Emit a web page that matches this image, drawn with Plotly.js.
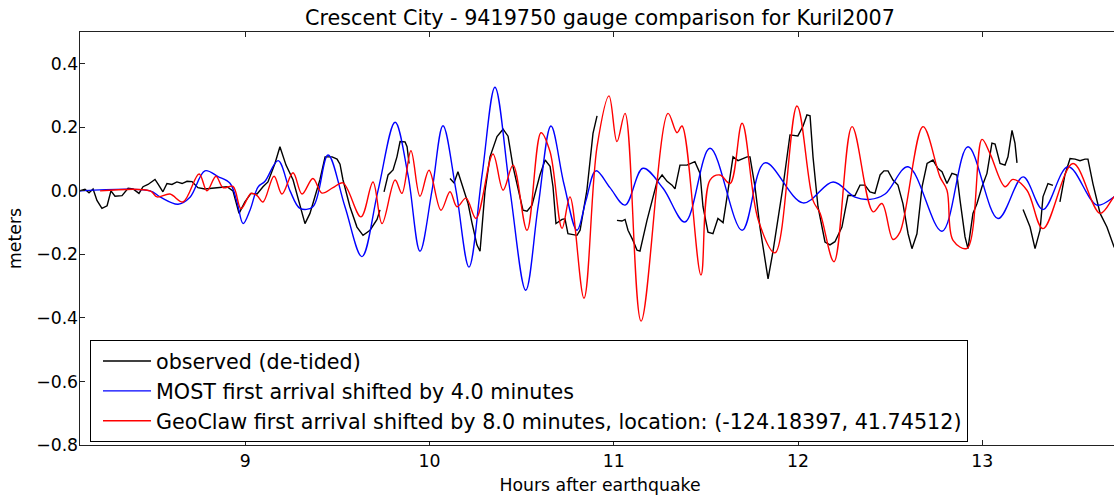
<!DOCTYPE html>
<html>
<head>
<meta charset="utf-8">
<script src="https://cdn.plot.ly/plotly-3.0.1.min.js"></script>
<style>
  html, body { margin: 0; padding: 0; overflow: hidden; background: #fff; }
  #chart { width: 1120px; height: 495px; }
</style>
</head>
<body>
<div id="chart"></div>
<script>
// Tide gauge record (de-tided), hours after the earthquake vs. surface elevation (m).
// null entries mark gaps in the observed record.
const obsHours = [
  8.103, 8.130, 8.152, 8.174, 8.195, 8.222, 8.250, 8.271, 8.293, 8.331, 8.364, 8.391, 8.423, 8.445,
  8.472, 8.510, 8.526, 8.553, 8.575, 8.602, 8.629, 8.657, 8.684, 8.711, 8.743, 8.781, 8.819, 8.852,
  8.901, 8.933, 8.966, 8.998, 9.031, 9.064, 9.096, 9.123, 9.161, 9.188, 9.221, 9.259, 9.286, 9.324,
  9.351, 9.378, 9.405, 9.433, 9.471, 9.498, 9.514, 9.530, 9.568, 9.606, 9.639, 9.677, 9.715, 9.731,
  9.742,
  9.753, 9.775, 9.802, 9.823, 9.840, 9.867, 9.878, 9.889,
  10.000,
  10.111, 10.133, 10.154, 10.181, 10.209, 10.230, 10.257, 10.274, 10.301, 10.328, 10.366, 10.399,
  10.426, 10.453, 10.480, 10.507, 10.529, 10.556, 10.599, 10.627, 10.654, 10.670, 10.686, 10.719,
  10.735, 10.751, 10.800, 10.817, 10.854, 10.887, 10.909,
  10.960,
  11.017, 11.044, 11.061, 11.077, 11.104, 11.126, 11.142, 11.180, 11.234, 11.262, 11.289, 11.316,
  11.332, 11.359, 11.397, 11.440, 11.468, 11.484, 11.511, 11.538, 11.565, 11.593, 11.620, 11.647,
  11.674, 11.723, 11.739, 11.766, 11.793, 11.837, 11.864, 11.918, 11.956, 11.999, 12.027, 12.048,
  12.065, 12.081, 12.108, 12.146, 12.173, 12.200, 12.238, 12.271, 12.309, 12.336, 12.363, 12.390,
  12.417, 12.445, 12.466, 12.488, 12.515, 12.542, 12.569, 12.597, 12.618, 12.645, 12.673, 12.700,
  12.732, 12.759, 12.781, 12.808, 12.835, 12.862, 12.879, 12.906, 12.922, 12.949, 12.971, 12.998,
  13.025, 13.052, 13.069, 13.096, 13.123, 13.139, 13.161, 13.177, 13.188,
  13.204,
  13.221, 13.259, 13.286, 13.313, 13.329, 13.356, 13.383,
  13.402,
  13.421, 13.448, 13.476, 13.503, 13.530, 13.557, 13.573, 13.600, 13.639, 13.676, 13.715, 13.747
];
const obsMeters = [
  0.000, 0.005, -0.006, 0.006, -0.030, -0.055, -0.047, 0.000, -0.017, -0.015, 0.008, 0.006, -0.008, 0.013,
  0.020, 0.036, 0.022, -0.003, 0.023, 0.020, 0.028, 0.023, 0.030, 0.029, 0.010, 0.006, 0.008, 0.010,
  0.013, 0.000, -0.071, -0.035, -0.008, -0.010, 0.013, 0.028, 0.086, 0.139, 0.081, 0.035, -0.024, -0.103,
  -0.071, -0.020, 0.035, 0.107, 0.107, 0.100, 0.084, 0.035, -0.050, -0.114, -0.140, -0.124, -0.090, -0.060,
  null,
  -0.003, 0.050, 0.066, 0.107, 0.155, 0.154, 0.139, 0.086,
  null,
  0.039, 0.025, 0.060, 0.008, -0.040, -0.100, -0.170, -0.190, 0.000, 0.107, 0.171, 0.194,
  0.172, 0.076, 0.002, -0.061, -0.064, -0.045, 0.050, 0.097, 0.077, 0.013, -0.103, -0.090,
  -0.088, -0.135, -0.140, -0.124, 0.002, 0.181, 0.236,
  null,
  -0.093, -0.095, -0.090, -0.124, -0.156, -0.187, -0.190, -0.093, 0.028, 0.050, 0.030, 0.018,
  0.006, 0.081, 0.081, 0.092, 0.055, -0.050, -0.130, -0.135, -0.087, -0.100, 0.002, 0.107,
  0.095, 0.107, 0.107, 0.013, -0.114, -0.277, -0.190, 0.013, 0.176, 0.173, 0.204, 0.239,
  0.236, 0.107, -0.050, -0.161, -0.170, -0.160, -0.114, -0.014, -0.015, 0.018, 0.018, -0.003,
  -0.008, 0.050, 0.063, 0.063, 0.034, 0.018, -0.040, -0.135, -0.182, -0.135, 0.013, 0.086,
  0.097, 0.070, 0.060, 0.023, 0.055, 0.050, -0.030, -0.145, -0.182, -0.071, -0.040, 0.013,
  0.055, 0.150, 0.147, 0.086, 0.081, 0.107, 0.190, 0.150, 0.088,
  null,
  -0.059, -0.114, -0.182, -0.124, -0.019, 0.023, 0.017,
  null,
  -0.035, 0.050, 0.102, 0.100, 0.095, 0.100, 0.100, 0.023, -0.071, -0.114, -0.177, -0.190
];

// MOST model time series (first arrival shifted by 4.0 minutes)
const mostHours = [
  8.103, 8.483, 8.537, 8.635, 8.700, 8.781, 8.852, 8.917, 8.955, 8.988, 9.026, 9.069, 9.107, 9.178,
  9.243, 9.297, 9.367, 9.449, 9.541, 9.633, 9.720, 9.813, 9.883, 9.948, 10.013, 10.073, 10.144, 10.214,
  10.285, 10.355, 10.437, 10.522, 10.589, 10.659, 10.730, 10.800, 10.849, 10.903, 10.979, 11.061,
  11.158, 11.267, 11.386, 11.522, 11.696, 11.820, 12.027, 12.190, 12.309, 12.390, 12.472, 12.597,
  12.781, 12.922, 13.085, 13.221, 13.329, 13.465, 13.622, 13.715, 13.747
];
const mostMeters = [
  0.000, 0.000, -0.019, -0.042, -0.020, 0.063, 0.045, 0.024, -0.035, -0.103, -0.060, 0.012, 0.030, 0.095,
  0.000, -0.055, -0.050, 0.113, -0.050, -0.207, 0.000, 0.216, 0.050, -0.190, 0.000, 0.205, 0.000, -0.240,
  0.050, 0.326, 0.000, -0.313, -0.050, 0.204, 0.020, -0.124, -0.030, 0.063, 0.010, -0.045,
  0.071, 0.008, -0.098, 0.134, -0.124, 0.088, -0.038, 0.028, -0.020, -0.027, -0.010, 0.076,
  -0.127, 0.139, -0.087, 0.044, -0.059, 0.076, -0.045, -0.019, -0.005
];

// GeoClaw model time series (first arrival shifted by 8.0 minutes)
const geoHours = [
  8.212, 8.483, 8.521, 8.591, 8.662, 8.749, 8.792, 8.841, 8.879, 8.933, 8.977, 9.031, 9.064, 9.096,
  9.156, 9.199, 9.259, 9.308, 9.367, 9.416, 9.476, 9.530, 9.628, 9.693, 9.742, 9.813, 9.850, 9.899,
  9.948, 9.997, 10.062, 10.111, 10.149, 10.198, 10.252, 10.344, 10.399, 10.453, 10.529, 10.605,
  10.654, 10.719, 10.762, 10.838, 10.909, 10.974, 11.017, 11.061, 11.148, 11.294, 11.343, 11.370,
  11.473, 11.522, 11.576, 11.631, 11.696, 11.783, 11.875, 11.994, 12.081, 12.119, 12.195, 12.293,
  12.407, 12.455, 12.515, 12.553, 12.678, 12.770, 12.808, 12.841, 12.917, 12.998, 13.041, 13.123,
  13.166, 13.242, 13.329, 13.492, 13.639, 13.715, 13.747
];
const geoMeters = [
  0.000, 0.000, -0.019, -0.010, -0.035, 0.053, 0.000, 0.046, 0.010, 0.014, -0.056, -0.008, -0.015, -0.035,
  0.046, -0.010, 0.057, -0.010, 0.039, -0.007, 0.010, 0.025, -0.082, 0.028, -0.103, 0.034, -0.008, 0.126,
  -0.017, 0.065, -0.061, -0.003, -0.050, -0.023, -0.087, 0.116, 0.002, 0.081, -0.124, 0.183,
  0.123, -0.118, -0.019, -0.338, 0.139, 0.299, 0.155, 0.244, -0.410, 0.244, 0.183, 0.204,
  -0.265, 0.034, 0.050, 0.023, 0.213, -0.090, -0.195, 0.267, -0.030, -0.070, -0.223, 0.202,
  -0.066, -0.040, -0.153, -0.130, 0.202, 0.044, 0.002, -0.156, -0.181, 0.162, 0.118, 0.013,
  0.036, 0.002, -0.119, 0.086, -0.071, -0.019, -0.005
];

const seriesNames = [
  'observed (de-tided)',
  'MOST first arrival shifted by 4.0 minutes',
  'GeoClaw first arrival shifted by 8.0 minutes, location: (-124.18397, 41.74512)'
];

const FONT = 'DejaVu Sans, Liberation Sans, sans-serif';

const traces = [
  {
    x: obsHours, y: obsMeters, name: seriesNames[0], type: 'scatter', mode: 'lines',
    connectgaps: false, line: { color: '#000000', width: 1.4 }
  },
  {
    x: mostHours, y: mostMeters, name: seriesNames[1], type: 'scatter', mode: 'lines',
    line: { color: '#0000ff', width: 1.4, shape: 'spline', smoothing: 1 }
  },
  {
    x: geoHours, y: geoMeters, name: seriesNames[2], type: 'scatter', mode: 'lines',
    line: { color: '#ff0000', width: 1.4, shape: 'spline', smoothing: 1 }
  }
];

const axisCommon = {
  showgrid: false, zeroline: false, showline: true, linecolor: '#222', linewidth: 1.4,
  mirror: 'ticks', ticks: 'inside', ticklen: 5, tickwidth: 1, tickcolor: '#222',
  tickfont: { family: FONT, size: 17.3, color: '#000' }
};

const layout = {
  width: 1120, height: 495,
  margin: { l: 80, r: 0, t: 32, b: 50 },
  paper_bgcolor: '#fff', plot_bgcolor: '#fff',
  font: { family: FONT, color: '#000' },
  title: {
    text: 'Crescent City - 9419750 gauge comparison for Kuril2007',
    font: { family: FONT, size: 20.7, color: '#000' },
    x: 0.5, xref: 'paper', xanchor: 'center',
    y: 1 - 17.5 / 495, yref: 'container', yanchor: 'middle'
  },
  xaxis: Object.assign({}, axisCommon, {
    range: [8.103, 13.747], tick0: 0, dtick: 1,
    title: { text: 'Hours after earthquake', font: { family: FONT, size: 17.3, color: '#000' }, standoff: 9 }
  }),
  yaxis: Object.assign({}, axisCommon, {
    range: [-0.8, 0.5], tick0: 0, dtick: 0.2, tickformat: '.1f', ticklabelstandoff: -3,
    title: { text: 'meters', font: { family: FONT, size: 17.3, color: '#000' }, standoff: 10 }
  }),
  showlegend: true,
  legend: {
    x: 10 / 1040, y: (445 - 340) / 413, xanchor: 'left', yanchor: 'top',
    bgcolor: '#fff', bordercolor: '#000', borderwidth: 1, itemwidth: 48, indentation: 7,
    font: { family: FONT, size: 20.7, color: '#000' },
    traceorder: 'normal'
  }
};

Plotly.newPlot('chart', traces, layout, { staticPlot: true, displayModeBar: false });
</script>
</body>
</html>
